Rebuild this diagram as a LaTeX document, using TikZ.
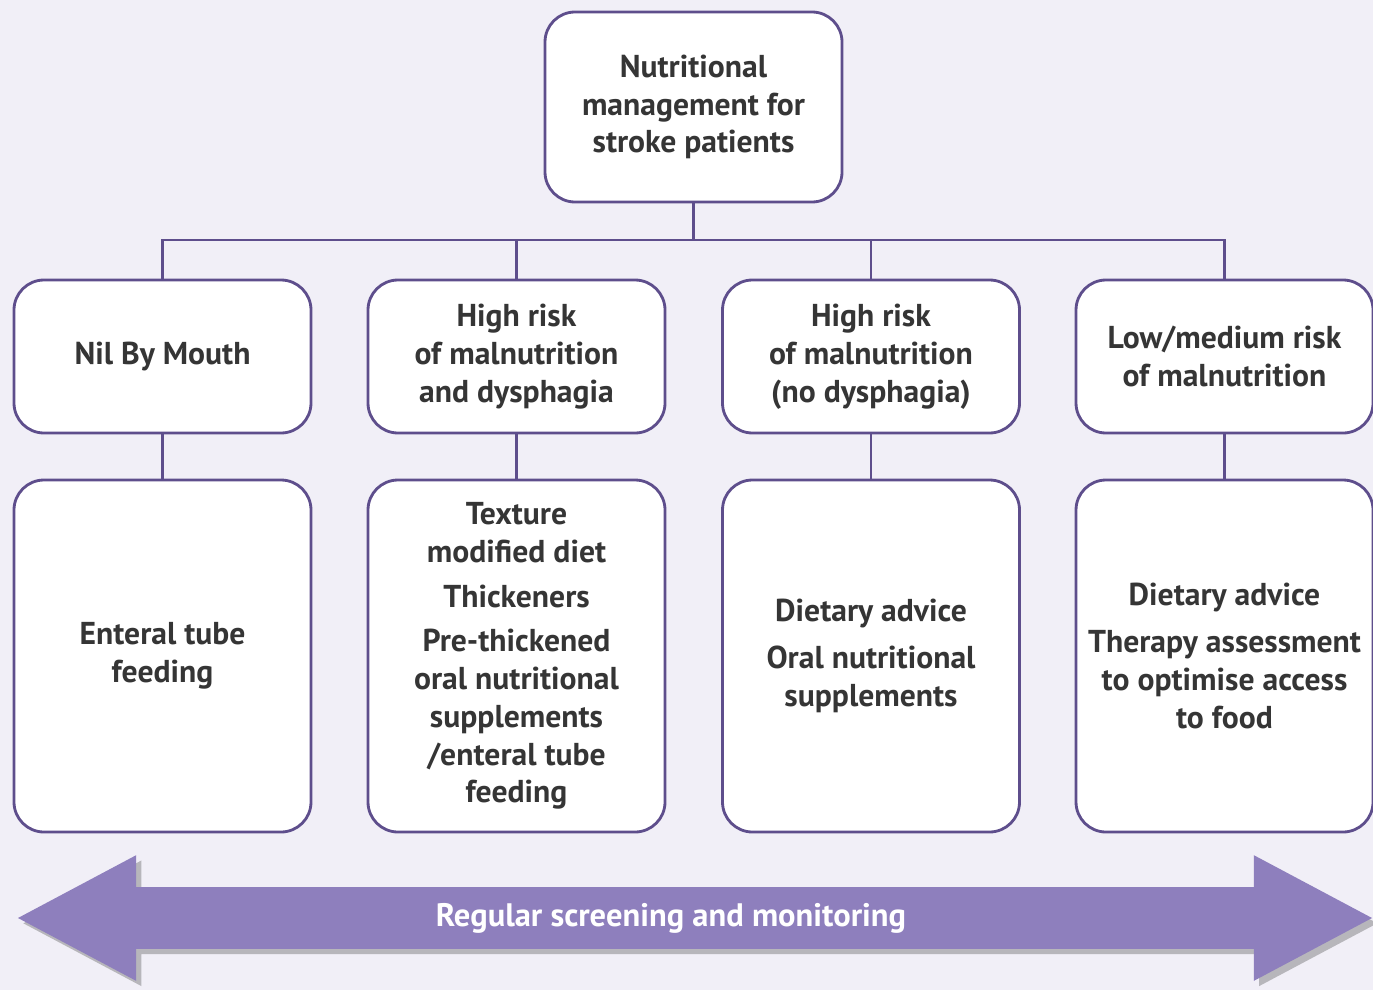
\documentclass[tikz,border=0pt]{standalone}
\usepackage{fontspec}
\setmainfont{PT Sans}
\usetikzlibrary{shapes.arrows,shadows,positioning}
\definecolor{frame}{HTML}{5E4E8C}
\definecolor{band}{HTML}{8E7FBD}
\definecolor{paper}{HTML}{F1EFF7}
\definecolor{ink}{HTML}{353535}
\begin{document}
\begin{tikzpicture}[
    box/.style={draw=frame, line width=1.6pt, fill=white, rounded corners=0.6cm, minimum width=5.94cm, align=center, text=ink, font=\bfseries\fontsize{18}{21.5}\selectfont},
    head/.style={box, minimum height=3.06cm},
    todo/.style={box, minimum height=7.04cm},
    link/.style={draw=frame, line width=1.4pt},
    band/.style={shape=double arrow, fill=band, minimum height=27.08cm, inner xsep=0pt, inner ysep=0.61cm, double arrow head extend=0.64cm, double arrow tip angle=56, drop shadow={shadow xshift=3pt, shadow yshift=-3pt, opacity=0.35, fill=black!70}}
]
\fill[paper] (0,0) rectangle (27.46,-19.8);
\useasboundingbox (0,0) rectangle (27.46,-19.8);

\node[box, minimum height=3.8cm] (top) at (13.87,-2.14) {Nutritional\\management for\\stroke patients};

\node[head] (h1) at (3.25,-7.13) {Nil By Mouth};
\node[head] (h2) at (10.33,-7.13) {High risk\\of malnutrition\\and dysphagia};
\node[head] (h3) at (17.42,-7.13) {High risk\\of malnutrition\\(no dysphagia)};
\node[head] (h4) at (24.49,-7.13) {Low/medium risk\\of malnutrition};

\node[todo] (t1) at (3.25,-13.12) {Enteral tube\\feeding};
\node[todo] (t2) at (10.33,-13.12) {Texture\\modified diet\\[4pt]Thickeners\\[4pt]Pre-thickened\\oral nutritional\\supplements\\/enteral tube\\feeding};
\node[todo] (t3) at (17.42,-13.12) {Dietary advice\\[5pt]Oral nutritional\\supplements};
\node[todo] (t4) at (24.49,-13.12) {Dietary advice\\[5pt]Therapy assessment\\to optimise access\\to food};

\coordinate (bus) at (13.87,-4.8);
\draw[link] (top.south) -- (bus);
\foreach \n in {1,...,4} {
    \draw[link] (h\n.north) |- (bus);
    \draw[link] (h\n.south) -- (t\n.north);
}

\node[band] (loop) at (13.9,-18.36) {};
\node[text=white, font=\bfseries\fontsize{18.5}{22}\selectfont] (looptext) at (13.42,-18.36) {Regular screening and monitoring};
\end{tikzpicture}
\end{document}
